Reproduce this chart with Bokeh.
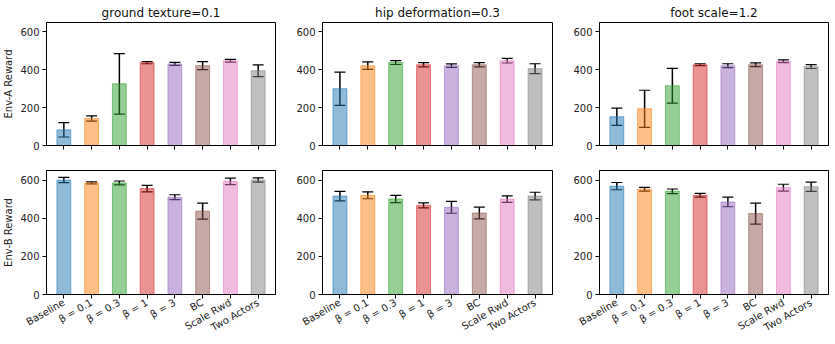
import math
from bokeh.plotting import figure
from bokeh.layouts import column, row
from bokeh.models import Range1d, FixedTicker, Whisker, TeeHead, ColumnDataSource
from bokeh.embed import file_html
from bokeh.resources import INLINE

methods = ["Baseline", "β = 0.1", "β = 0.3", "β = 1", "β = 3", "BC", "Scale Rwd", "Two Actors"]
titles = ["ground texture=0.1", "hip deformation=0.3", "foot scale=1.2"]
row_labels = ["Env-A Reward", "Env-B Reward"]
colors = ["#1f77b4", "#ff7f0e", "#2ca02c", "#d62728", "#9467bd", "#8c564b", "#e377c2", "#7f7f7f"]
y_ticks = [0, 200, 400, 600]

# Env-A
envA_ground_mean = [83, 143, 326, 438, 431, 422, 448, 395]
envA_ground_err = [38, 14, 160, 6, 8, 21, 7, 31]
envA_hip_mean = [300, 422, 438, 427, 422, 427, 448, 406]
envA_hip_err = [88, 20, 10, 11, 9, 11, 12, 26]
envA_foot_mean = [152, 194, 316, 427, 422, 427, 445, 417]
envA_foot_err = [46, 98, 92, 5, 10, 10, 7, 10]
# Env-B
envB_ground_mean = [600, 585, 585, 555, 510, 437, 593, 600]
envB_ground_err = [14, 5, 10, 17, 13, 42, 17, 11]
envB_hip_mean = [516, 520, 501, 467, 457, 427, 500, 516]
envB_hip_err = [25, 18, 19, 13, 31, 31, 17, 20]
envB_foot_mean = [568, 552, 541, 520, 485, 424, 560, 565]
envB_foot_err = [19, 10, 12, 10, 25, 55, 18, 24]

data = [
    [(envA_ground_mean, envA_ground_err), (envA_hip_mean, envA_hip_err), (envA_foot_mean, envA_foot_err)],
    [(envB_ground_mean, envB_ground_err), (envB_hip_mean, envB_hip_err), (envB_foot_mean, envB_foot_err)],
]

FONT = "DejaVu Sans"
col_left = [40, 28, 28]
col_right = [18, 18, 5]
col_fw = [229, 230, 229]
row_top = [20, 13]
row_bottom = [12, 40]
row_fh = [123, 124]

rows = []
for r in range(2):
    figs = []
    for c in range(3):
        mean, err = data[r][c]
        xs = list(range(len(methods)))
        kw = dict(title=titles[c]) if r == 0 else {}
        p = figure(frame_width=col_fw[c], frame_height=row_fh[r],
                   x_range=Range1d(-0.625, 7.625), y_range=Range1d(0, 650),
                   output_backend="svg", toolbar_location=None,
                   min_border_left=col_left[c], min_border_right=col_right[c],
                   min_border_top=row_top[r], min_border_bottom=row_bottom[r], **kw)
        p.xgrid.visible = False
        p.ygrid.visible = False
        p.outline_line_color = "black"
        p.outline_line_width = 1
        p.outline_line_alpha = 1
        src = ColumnDataSource(dict(x=xs, top=mean, color=colors,
                                    upper=[m + e for m, e in zip(mean, err)],
                                    lower=[m - e for m, e in zip(mean, err)]))
        p.vbar(x="x", top="top", width=0.5, source=src, fill_color="color",
               fill_alpha=0.5, line_color="color", line_alpha=0.55, line_width=1)
        w = Whisker(base="x", upper="upper", lower="lower", source=src,
                    line_color="black", line_width=1.5,
                    upper_head=TeeHead(size=11, line_color="black", line_width=1.2),
                    lower_head=TeeHead(size=11, line_color="black", line_width=1.2))
        p.add_layout(w)

        p.xaxis.ticker = FixedTicker(ticks=xs)
        p.yaxis.ticker = FixedTicker(ticks=y_ticks)
        for ax in (p.xaxis, p.yaxis):
            ax.minor_tick_line_color = None
            ax.major_tick_out = 4
            ax.major_tick_in = 0
            ax.major_label_standoff = 3
            ax.axis_line_color = "black"
            ax.major_tick_line_color = "black"
            ax.major_label_text_font = FONT
            ax.major_label_text_font_size = "10px"
            ax.major_label_text_color = "#222222"
        if r == 0:
            p.xaxis.major_label_overrides = {i: "" for i in xs}
            p.xaxis.major_label_standoff = 0
        else:
            p.xaxis.major_label_overrides = {i: m for i, m in enumerate(methods)}
            p.xaxis.major_label_orientation = math.pi / 6
        if c == 0:
            p.yaxis.axis_label = row_labels[r]
            p.yaxis.axis_label_text_font = FONT
            p.yaxis.axis_label_text_font_size = "10px"
            p.yaxis.axis_label_text_font_style = "normal"
            p.yaxis.axis_label_text_color = "#222222"
            p.yaxis.axis_label_standoff = 3
        if r == 0:
            p.title.text_font = FONT
            p.title.text_font_size = "12px"
            p.title.text_font_style = "normal"
            p.title.align = "center"
            p.title.text_color = "#111111"
            p.title.standoff = 6
        figs.append(p)
    rows.append(row(*figs))

layout = column(*rows)
open("out.html", "w").write(file_html(layout, INLINE))
